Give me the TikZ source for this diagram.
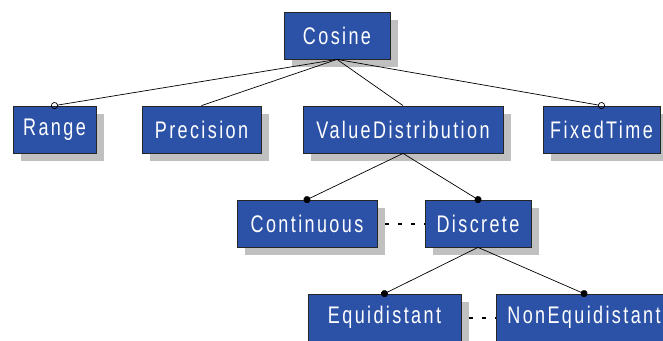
\documentclass[tikz,border=0pt]{standalone}
\usepackage{fontspec}
\setmainfont{Liberation Sans}[FakeStretch=0.75,LetterSpace=10]
\usetikzlibrary{positioning,shadows,arrows.meta}
\definecolor{featblue}{RGB}{44,82,168}
\definecolor{shadowgray}{RGB}{192,192,192}

\begin{document}
\begin{tikzpicture}[
  x=1pt, y=-1pt,
  feat/.style={rectangle,draw=black!85,line width=0.8pt,fill=featblue,text=white,
    minimum height=47pt,inner sep=0pt,font=\fontsize{24}{26}\selectfont,
    drop shadow={shadow xshift=8pt,shadow yshift=-8pt,fill=shadowgray,opacity=1}},
  link/.style={line width=0.7pt},
  opt/.style={link,-{Circle[open,length=7pt,width=7pt]},shorten >=-3.5pt},
  mand/.style={link,-{Circle[length=7pt,width=7pt]},shorten >=-3.5pt},
  alt/.style={line width=2pt,dash pattern=on 4pt off 9pt,dash phase=5pt}
]
  \useasboundingbox (0,0) rectangle (663,340);

  \node[feat,minimum width=106pt] (cosine) at (337,35.5) {Cosine};

  \node[feat,minimum width=83pt]  (range) at (54.5,129.5) {Range};
  \node[feat,minimum width=119pt] (prec)  at (201.5,129.5) {Precision};
  \node[feat,minimum width=200pt] (vdist) at (403,129.5) {ValueDistribution};
  \node[feat,minimum width=117pt] (fixed) at (601.5,129.5) {FixedTime};

  \node[feat,minimum width=140pt] (cont) at (307,223.5) {Continuous};
  \node[feat,minimum width=106pt] (disc) at (478,223.5) {Discrete};

  \node[feat,minimum width=153pt] (equi)    at (384.5,317.5) {Equidistant};
  \node[feat,minimum width=176pt] (nonequi) at (584,317.5) {NonEquidistant};

  \draw[opt]  (cosine.south) -- (range.north);
  \draw[link] (cosine.south) -- (prec.north);
  \draw[link] (cosine.south) -- (vdist.north);
  \draw[opt]  (cosine.south) -- (fixed.north);

  \draw[mand] (vdist.south) -- (cont.north);
  \draw[mand] (vdist.south) -- (disc.north);
  \draw[alt]  (cont.east) -- (disc.west);

  \draw[mand] (disc.south) -- (equi.north);
  \draw[mand] (disc.south) -- (nonequi.north);
  \draw[alt]  (equi.east) -- (nonequi.west);
\end{tikzpicture}
\end{document}
